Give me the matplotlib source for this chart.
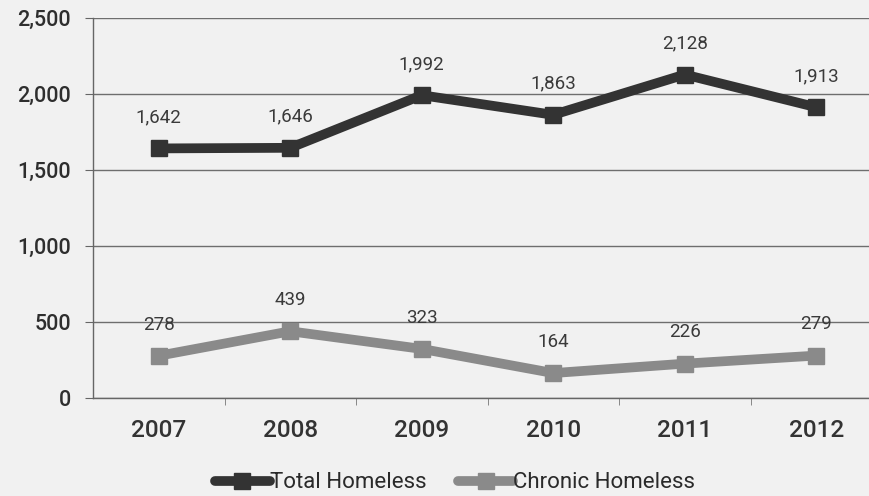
import matplotlib
matplotlib.use("Agg")
import matplotlib.pyplot as plt
from matplotlib.ticker import FuncFormatter, MultipleLocator
from matplotlib.lines import Line2D

years = ["2007", "2008", "2009", "2010", "2011", "2012"]
total_homeless = [1642, 1646, 1992, 1863, 2128, 1913]
chronic_homeless = [278, 439, 323, 164, 226, 279]
series_names = ["Total Homeless", "Chronic Homeless"]

bg = "#f1f1f1"
dark = "#333333"
gray = "#8a8a8a"

fig = plt.figure(figsize=(8.69, 4.96), dpi=100, facecolor=bg)
ax = fig.add_axes([93/869, 1-398/496, 789/869, 380/496])
ax.set_facecolor(bg)

x = list(range(len(years)))
ax.plot(x, total_homeless, color=dark, lw=7, marker="s", ms=12, zorder=4)
ax.plot(x, chronic_homeless, color=gray, lw=7, marker="s", ms=12, zorder=4)

for xi, v in zip(x, total_homeless):
    ax.annotate(f"{v:,}", (xi, v), xytext=(0, 16), textcoords="offset points",
                ha="center", va="bottom", fontsize=13.5, color="#3a3a3a",
                family="Roboto", zorder=5)
for xi, v in zip(x, chronic_homeless):
    ax.annotate(f"{v:,}", (xi, v), xytext=(0, 16), textcoords="offset points",
                ha="center", va="bottom", fontsize=13.5, color="#3a3a3a",
                family="Roboto", zorder=2)

ax.set_xlim(-0.5, 5.5)
ax.set_ylim(0, 2500)
ax.yaxis.set_major_locator(MultipleLocator(500))
ax.yaxis.set_major_formatter(FuncFormatter(lambda v, p: f"{int(v):,}"))
ax.grid(axis="y", color="#6e6e6e", lw=1.0, zorder=1)
ax.set_axisbelow(True)

ax.set_xticks(x)
ax.set_xticklabels(years, fontsize=17.5, color="#333333", family="Roboto", fontweight="medium")
ax.set_xticks([i + 0.5 for i in range(len(years) - 1)], minor=True)
ax.tick_params(axis="x", which="major", length=0, pad=15)
ax.tick_params(axis="x", which="minor", length=5, color="#777777", direction="out")
ax.tick_params(axis="y", length=6, color="#666666", labelsize=15.5, labelcolor="#2e2e2e", pad=10)
for lab in ax.get_yticklabels():
    lab.set_family("Roboto")
    lab.set_fontweight("medium")

for s in ["top", "right"]:
    ax.spines[s].set_visible(False)
ax.spines["left"].set_color("#666666")
ax.spines["bottom"].set_color("#666666")
ax.spines["left"].set_linewidth(1.0)
ax.spines["bottom"].set_linewidth(1.0)

handles = [Line2D([], [], color=dark, lw=7, marker="s", ms=12, solid_capstyle="round"),
           Line2D([], [], color=gray, lw=7, marker="s", ms=12, solid_capstyle="round")]
leg = fig.legend(handles, series_names, loc="center", ncol=2,
                 bbox_to_anchor=(455/869, 1-483/496), frameon=False,
                 prop={"family": "Roboto", "size": 16},
                 handlelength=2.5, handletextpad=0.0, columnspacing=1.4)
for t in leg.get_texts():
    t.set_color("#2a2a2a")

fig.savefig("out.png", dpi=100, facecolor=bg)
